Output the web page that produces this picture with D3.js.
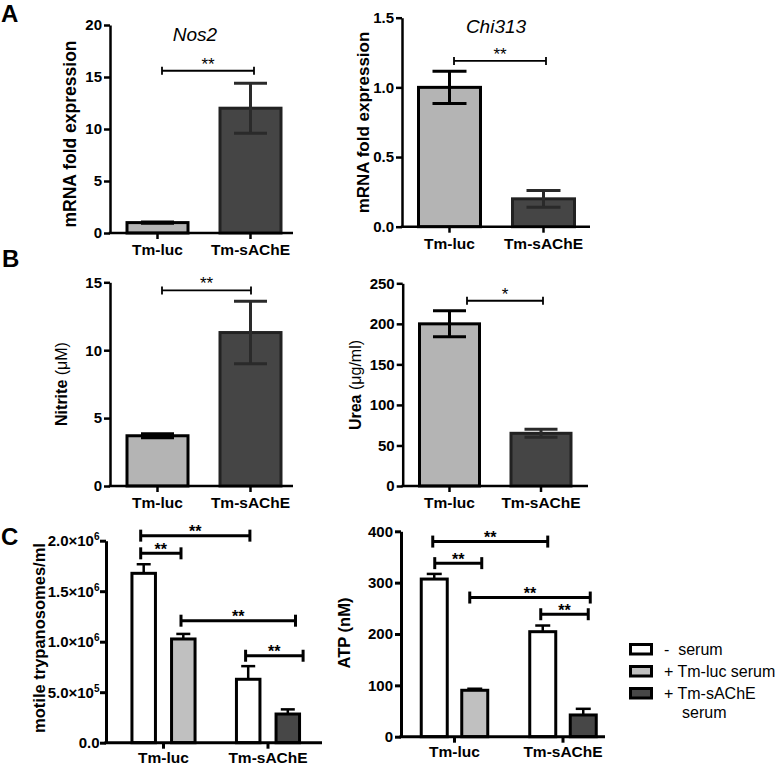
<!DOCTYPE html>
<html><head><meta charset="utf-8">
<script src="https://cdn.jsdelivr.net/npm/d3@7"></script>
<style>
body{margin:0;background:#fff;}
svg{display:block;font-family:"Liberation Sans",Arial,Helvetica,sans-serif;}
</style></head><body>
<svg id="chart" width="782" height="766"></svg>
<script>
// ---------------- DATA ----------------
const categories = ["Tm-luc", "Tm-sAChE"];

const nos2Mean = [1.0, 12.0];
const nos2Err = [0.06, 2.4];
const nos2Ticks = [0, 5, 10, 15, 20];

const chi313Mean = [1.0, 0.2];
const chi313Err = [0.115, 0.06];
const chi313Ticks = [0, 0.5, 1.0, 1.5];

const nitriteMean = [3.7, 11.3];
const nitriteErr = [0.15, 2.3];
const nitriteTicks = [0, 5, 10, 15];

const ureaMean = [200, 65];
const ureaErr = [16, 5];
const ureaTicks = [0, 50, 100, 150, 200, 250];

const serumConditions = ["-  serum", "+ Tm-luc serum", "+ Tm-sAChE serum"];
// condition index of the two bars inside each infection group
const groupConditions = [[0, 1], [0, 2]];

const motileMean = [[1.677e6, 1.027e6], [0.628e6, 0.284e6]];
const motileErr = [[0.09e6, 0.05e6], [0.13e6, 0.046e6]];
const motileTicks = [0, 5e5, 1e6, 1.5e6, 2e6];

const atpMean = [[307, 90.4], [204.5, 42.3]];
const atpErr = [[10, 3], [12, 12]];
const atpTicks = [0, 100, 200, 300, 400];

// significance: two-group panels (category index), grouped panels ([group, bar])
const nos2Sig = [{ a: 0, b: 1, y: 15.6, label: "**" }];
const chi313Sig = [{ a: 0, b: 1, y: 1.19, label: "**" }];
const nitriteSig = [{ a: 0, b: 1, y: 14.4, label: "**" }];
const ureaSig = [{ a: 0, b: 1, y: 228.5, label: "*" }];
const motileSig = [
  { a: [0, 0], b: [1, 0], y: 2.05e6, label: "**" },
  { a: [0, 0], b: [0, 1], y: 1.875e6, label: "**" },
  { a: [0, 1], b: [1, 1], y: 1.208e6, label: "**" },
  { a: [1, 0], b: [1, 1], y: 0.861e6, label: "**" }
];
const atpSig = [
  { a: [0, 0], b: [1, 0], y: 380, label: "**" },
  { a: [0, 0], b: [0, 1], y: 338, label: "**" },
  { a: [0, 1], b: [1, 1], y: 271, label: "**" },
  { a: [1, 0], b: [1, 1], y: 238.5, label: "**" }
];

// ---------------- STYLE ----------------
const FONT = '"Liberation Sans",Arial,Helvetica,sans-serif';
const simpleFills = ["#b4b4b4", "#454545"];
const simpleStrokes = ["#000", "#222"];
const condFills = ["#ffffff", "#c0c0c0", "#474747"];

const svg = d3.select("#chart");

function styleAxis(g, fs, sw) {
  g.attr("font-family", FONT).attr("font-size", fs).attr("font-weight", "bold");
  g.selectAll("path,line").attr("stroke", "#000").attr("stroke-width", sw);
  g.selectAll("text").attr("fill", "#000");
}

function bandFrom(domain, x0, firstCenter, step, barW) {
  const pi = 1 - barW / step;
  const po = (firstCenter - x0 - barW / 2) / step;
  return d3.scaleBand().domain(domain)
    .range([x0, x0 + step * (domain.length - pi + 2 * po)])
    .paddingInner(pi).paddingOuter(po);
}

function yLabel(text, cx, cy, fs, parts) {
  const t = svg.append("text")
    .attr("transform", `translate(${cx},${cy}) rotate(-90)`)
    .attr("text-anchor", "middle").attr("dy", "0.35em")
    .attr("font-size", fs).attr("font-weight", "bold").attr("fill", "#000");
  if (parts) {
    parts.forEach(p => t.append("tspan").text(p.t).attr("font-weight", p.w || "bold"));
  } else t.text(text);
}

function bracket(x1, x2, yy, label, capH, sw, fs, fw, dyText) {
  const g = svg.append("g").attr("stroke", "#000").attr("stroke-width", sw);
  g.append("line").attr("x1", x1).attr("x2", x2).attr("y1", yy).attr("y2", yy);
  g.append("line").attr("x1", x1).attr("x2", x1).attr("y1", yy - capH).attr("y2", yy + capH);
  g.append("line").attr("x1", x2).attr("x2", x2).attr("y1", yy - capH).attr("y2", yy + capH);
  svg.append("text").attr("x", (x1 + x2) / 2).attr("y", yy + dyText)
    .attr("text-anchor", "middle").attr("font-size", fs).attr("font-weight", fw)
    .attr("fill", "#000").text(label);
}

function simplePanel(c) {
  const x = bandFrom(categories, c.x0, c.firstCenter, c.step, c.barW);
  const y = d3.scaleLinear().domain([0, c.max]).range([c.yBottom, c.yTop]);
  const bw = x.bandwidth();

  svg.append("g").selectAll("rect").data(categories).join("rect")
    .attr("x", d => x(d)).attr("width", bw)
    .attr("y", (d, i) => y(c.means[i]))
    .attr("height", (d, i) => y(0) - y(c.means[i]))
    .attr("fill", (d, i) => simpleFills[i])
    .attr("stroke", (d, i) => simpleStrokes[i]).attr("stroke-width", 3);

  const eg = svg.append("g").attr("stroke-width", 3);
  categories.forEach((d, i) => {
    const cx = x(d) + bw / 2, col = i === 0 ? "#000" : "#2a2a2a";
    const lo = y(c.means[i] - c.errs[i]), hi = y(c.means[i] + c.errs[i]);
    eg.append("line").attr("x1", cx).attr("x2", cx).attr("y1", lo).attr("y2", hi).attr("stroke", col);
    [lo, hi].forEach(v => eg.append("line").attr("x1", cx - c.capW / 2).attr("x2", cx + c.capW / 2)
      .attr("y1", v).attr("y2", v).attr("stroke", col));
  });

  const ya = svg.append("g").attr("transform", `translate(${c.x0},0)`)
    .call(d3.axisLeft(y).tickValues(c.ticks).tickFormat(c.fmt).tickSize(6).tickSizeOuter(0).tickPadding(2));
  styleAxis(ya, 15, 2.5);
  const xa = svg.append("g").attr("transform", `translate(0,${c.yBottom})`)
    .call(d3.axisBottom(x).tickSize(6).tickSizeOuter(0).tickPadding(5));
  styleAxis(xa, 15.5, 2.5);
  xa.select(".domain").attr("d", `M${c.x0 - 1.25},0H${c.xEnd}`);

  c.sig.forEach(s => {
    bracket(x(categories[s.a]) + bw / 2 + c.sigOff[0], x(categories[s.b]) + bw / 2 + c.sigOff[1],
      y(s.y), s.label, 4, 1.8, 17, "normal", -1);
  });

  if (c.title) {
    svg.append("text").attr("x", c.titleX).attr("y", c.titleY).attr("text-anchor", "middle")
      .attr("font-size", 19).attr("font-style", "italic").attr("fill", "#000").text(c.title);
  }
}

function groupedPanel(c) {
  const innerPad = 1 - c.barW / c.barDist;
  const groupW = c.barDist * (2 - innerPad);
  const gx = bandFrom(categories, c.x0, c.firstCenter, c.step, groupW);
  const bx = d3.scaleBand().domain([0, 1]).range([0, gx.bandwidth()]).paddingInner(innerPad).paddingOuter(0);
  const y = d3.scaleLinear().domain([0, c.max]).range([c.yBottom, c.yTop]);
  const bw = bx.bandwidth();
  const barCenter = (gi, bi) => gx(categories[gi]) + bx(bi) + bw / 2;

  const flat = [];
  categories.forEach((g, gi) => [0, 1].forEach(bi => flat.push({ gi, bi, m: c.means[gi][bi], e: c.errs[gi][bi], cond: groupConditions[gi][bi] })));

  const eg = svg.append("g").attr("stroke", "#000").attr("stroke-width", 2.5);
  flat.forEach(d => {
    const cx = barCenter(d.gi, d.bi);
    eg.append("line").attr("x1", cx).attr("x2", cx).attr("y1", y(d.m)).attr("y2", y(d.m + d.e));
    eg.append("line").attr("x1", cx - c.capW / 2).attr("x2", cx + c.capW / 2)
      .attr("y1", y(d.m + d.e)).attr("y2", y(d.m + d.e));
  });

  svg.append("g").selectAll("rect").data(flat).join("rect")
    .attr("x", d => gx(categories[d.gi]) + bx(d.bi)).attr("width", bw)
    .attr("y", d => y(d.m)).attr("height", d => y(0) - y(d.m))
    .attr("fill", d => condFills[d.cond]).attr("stroke", "#000").attr("stroke-width", 3);

  const ya = svg.append("g").attr("transform", `translate(${c.x0},0)`)
    .call(d3.axisLeft(y).tickValues(c.ticks).tickFormat(c.fmt).tickSize(6).tickSizeOuter(0).tickPadding(c.sci ? 0.5 : 2));
  styleAxis(ya, 15, 3);
  if (c.sci) {
    ya.selectAll(".tick text").each(function (d) {
      const t = d3.select(this);
      t.text(null);
      if (d === 0) { t.text("0.0"); return; }
      const ex = Math.floor(Math.log10(d));
      const man = (d / Math.pow(10, ex)).toFixed(1);
      t.append("tspan").text(man + "×10");
      t.append("tspan").text(ex).attr("font-size", 10).attr("dy", "-0.6em");
    });
  }
  const xa = svg.append("g").attr("transform", `translate(0,${c.yBottom})`)
    .call(d3.axisBottom(gx).tickSize(6).tickSizeOuter(0).tickPadding(3));
  styleAxis(xa, 15.5, 3);
  xa.select(".domain").attr("d", `M${c.x0 - 1.5},0H${c.xEnd}`);

  c.sig.forEach((s, i) => {
    bracket(barCenter(s.a[0], s.a[1]) + c.sigOff[i][0], barCenter(s.b[0], s.b[1]) + c.sigOff[i][1],
      y(s.y), s.label, 6, 3, 16, "bold", 1.5);
  });
}

// ---------------- PANELS ----------------
const intFmt = d3.format("d"), oneDec = d3.format(".1f");

simplePanel({ x0: 110, xEnd: 293, yBottom: 233, yTop: 25, firstCenter: 157.5, step: 93, barW: 61, capW: 33,
  max: 20, ticks: nos2Ticks, fmt: intFmt, means: nos2Mean, errs: nos2Err, sig: nos2Sig, sigOff: [4.5, 3.5],
  title: "Nos2", titleX: 195, titleY: 41 });
yLabel("mRNA fold expression", 70, 134, 17.5);

simplePanel({ x0: 402, xEnd: 590, yBottom: 226.7, yTop: 17.7, firstCenter: 449.5, step: 94, barW: 62, capW: 34,
  max: 1.5, ticks: chi313Ticks, fmt: oneDec, means: chi313Mean, errs: chi313Err, sig: chi313Sig, sigOff: [4.5, 2.5],
  title: "Chi313", titleX: 496, titleY: 33 });
yLabel("mRNA fold expression", 363, 122.5, 17);

simplePanel({ x0: 110, xEnd: 293, yBottom: 486, yTop: 282.3, firstCenter: 157.5, step: 93, barW: 61, capW: 33,
  max: 15, ticks: nitriteTicks, fmt: intFmt, means: nitriteMean, errs: nitriteErr, sig: nitriteSig, sigOff: [4.5, 0.5] });
yLabel(null, 61, 384, 16, [{ t: "Nitrite " }, { t: "(μM)", w: "normal" }]);

simplePanel({ x0: 402.7, xEnd: 588, yBottom: 486, yTop: 283.3, firstCenter: 449.5, step: 91.5, barW: 60, capW: 33,
  max: 250, ticks: ureaTicks, fmt: intFmt, means: ureaMean, errs: ureaErr, sig: ureaSig, sigOff: [17.5, 2] });
yLabel(null, 355, 385, 16, [{ t: "Urea " }, { t: "(μg/ml)", w: "normal" }]);

groupedPanel({ x0: 106, xEnd: 322, yBottom: 742.7, yTop: 540.7, firstCenter: 163.5, step: 104.5,
  barW: 23.5, barDist: 39.6, capW: 14, max: 2e6, ticks: motileTicks, fmt: d => d, sci: true,
  means: motileMean, errs: motileErr, sig: motileSig,
  sigOff: [[-3, 1.7], [-3, -2.3], [-2.3, 7.7], [-2.6, 15.3]] });
yLabel("motile trypanosomes/ml", 39.5, 638, 16.5);

groupedPanel({ x0: 401, xEnd: 605, yBottom: 736.7, yTop: 531.3, firstCenter: 454.5, step: 108.5,
  barW: 26, barDist: 40.5, capW: 15, max: 400, ticks: atpTicks, fmt: intFmt,
  means: atpMean, errs: atpErr, sig: atpSig,
  sigOff: [[-1.5, 5], [0.5, 7], [-5, 7], [-2, 5]] });
yLabel("ATP (nM)", 344, 633, 16.5);

// panel letters
[["A", 1, 22], ["B", 2, 267], ["C", 1, 545]].forEach(([t, xx, yy]) =>
  svg.append("text").attr("x", xx).attr("y", yy).attr("font-size", 24).attr("font-weight", "bold")
    .attr("fill", "#000").text(t));

// legend
const leg = svg.append("g").attr("transform", "translate(630,644)");
serumConditions.forEach((s, i) => {
  const row = leg.append("g").attr("transform", `translate(0,${i * 22})`);
  row.append("rect").attr("x", 0.5).attr("y", 0.5).attr("width", 21).attr("height", 9.5)
    .attr("fill", condFills[i]).attr("stroke", "#000").attr("stroke-width", 3);
  const words = s.split(" ");
  const txt = row.append("text").attr("x", 34).attr("y", 10.5).attr("font-size", 16)
    .attr("fill", "#000").style("white-space", "pre");
  if (i === 2) {
    txt.text(words.slice(0, 2).join(" "));
    row.append("text").attr("x", 52).attr("y", 30).attr("font-size", 16).attr("fill", "#000")
      .text(words.slice(2).join(" "));
  } else txt.text(s);
});
</script>
</body></html>
